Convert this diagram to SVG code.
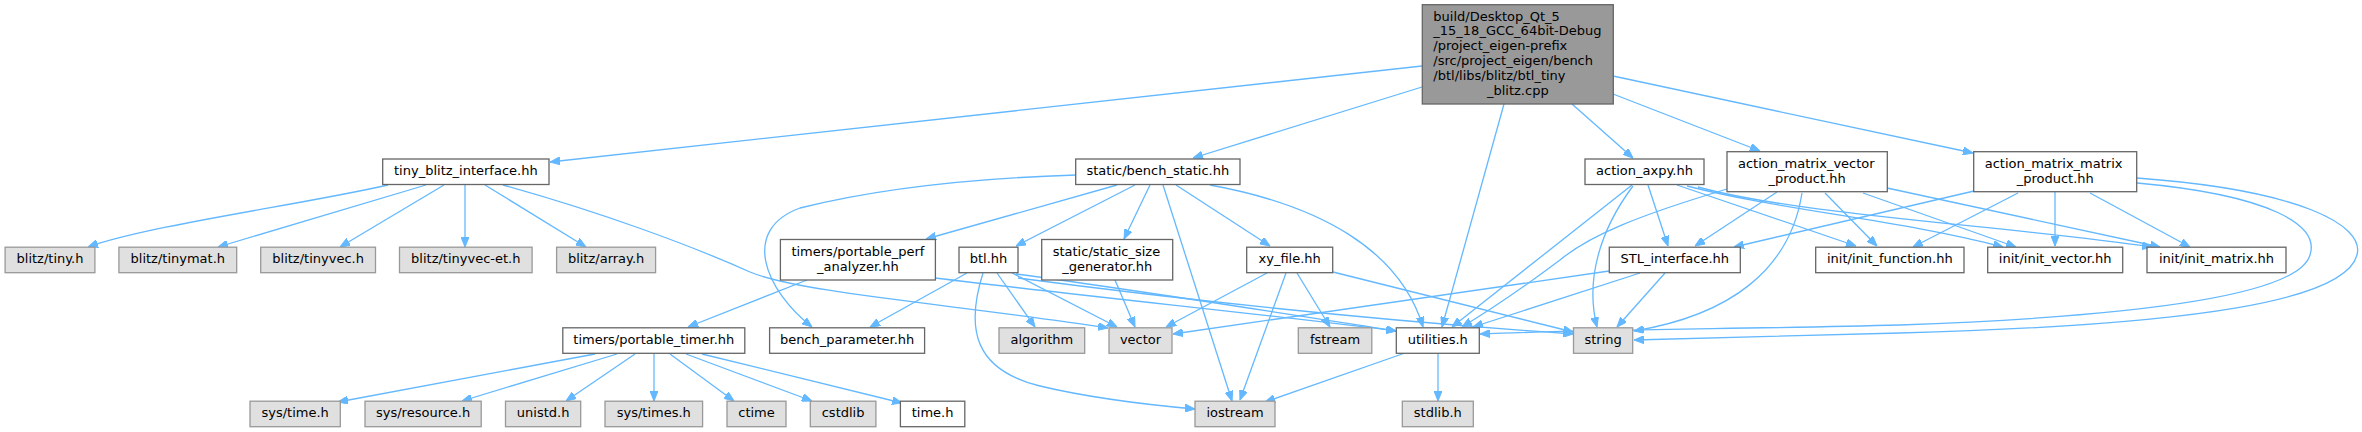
<svg xmlns="http://www.w3.org/2000/svg" width="2362" height="432" viewBox="0 0 2362 432">
<style>
.e{fill:none;stroke:#63b8ff;stroke-width:1.3;marker-end:url(#arr)}
.w{fill:#fff;stroke:#666;stroke-width:1.3}
.g{fill:#e0e0e0;stroke:#999;stroke-width:1.3}
.t{fill:#999;stroke:#666;stroke-width:1.3}
text{font-family:"DejaVu Sans","Noto Sans",sans-serif;font-size:13px;fill:#000}
.c{text-anchor:middle}
</style>
<defs>
<marker id="arr" markerUnits="userSpaceOnUse" markerWidth="10" markerHeight="8" refX="10" refY="4" orient="auto">
<path d="M0,0 L10,4 L0,8 z" fill="#63b8ff" stroke="#63b8ff" stroke-width="1"/>
</marker>
</defs>
<rect width="2362" height="432" fill="#fff"/>
<g id="edges">
<path class="e" d="M1422,66 L550,162"/>
<path class="e" d="M1422,87 L1193,158"/>
<path class="e" d="M1504,104 L1442,327"/>
<path class="e" d="M1572,104 L1633,158"/>
<path class="e" d="M1613,94 L1760,151"/>
<path class="e" d="M1613,76 L1973,153"/>
<path class="e" d="M1076,175 C980,178 880,188 800,208 C740,230 765,290 812,327"/>
<path class="e" d="M1117,185 L926,239"/>
<path class="e" d="M1135,185 L1016,246"/>
<path class="e" d="M1150,185 L1124,239"/>
<path class="e" d="M1163,185 L1232,401"/>
<path class="e" d="M1176,185 L1270,246"/>
<path class="e" d="M1210,185 C1320,205 1400,250 1423,327"/>
<path class="e" d="M388,185 C300,205 150,225 88,247"/>
<path class="e" d="M426,185 L218,247"/>
<path class="e" d="M444,185 L340,247"/>
<path class="e" d="M465,185 L465,247"/>
<path class="e" d="M485,185 L586,247"/>
<path class="e" d="M503,185 C600,212 690,245 750,272 C800,293 960,305 1108,328"/>
<path class="e" d="M807,280 L688,327"/>
<path class="e" d="M935,278 C1100,298 1300,318 1396,331"/>
<path class="e" d="M967,273 L870,327"/>
<path class="e" d="M997,273 L1035,327"/>
<path class="e" d="M1012,273 L1117,327"/>
<path class="e" d="M983,273 C965,330 975,370 1040,386 C1090,398 1150,405 1195,409"/>
<path class="e" d="M1016,274 C1150,292 1300,316 1396,331"/>
<path class="e" d="M1018,278 C1200,302 1400,322 1573,334"/>
<path class="e" d="M1115,280 L1135,327"/>
<path class="e" d="M1267,273 L1166,327"/>
<path class="e" d="M1286,273 L1240,400"/>
<path class="e" d="M1297,273 L1330,327"/>
<path class="e" d="M1333,272 L1573,332"/>
<path class="e" d="M1405,353 L1265,402"/>
<path class="e" d="M1438,353 L1438,401"/>
<path class="e" d="M595,354 L338,402"/>
<path class="e" d="M617,354 L462,401"/>
<path class="e" d="M635,354 L566,401"/>
<path class="e" d="M654,354 L654,401"/>
<path class="e" d="M670,354 L734,401"/>
<path class="e" d="M686,354 L812,401"/>
<path class="e" d="M702,354 L902,403"/>
<path class="e" d="M1632,185 L1452,327"/>
<path class="e" d="M1633,186 C1600,230 1585,280 1597,327"/>
<path class="e" d="M1648,185 L1668,246"/>
<path class="e" d="M1677,185 L1856,246"/>
<path class="e" d="M1687,186 C1780,210 1900,220 2003,247"/>
<path class="e" d="M1698,187 C1800,215 2000,225 2152,247"/>
<path class="e" d="M1727,189 C1640,215 1590,235 1560,260 C1520,290 1490,310 1462,327"/>
<path class="e" d="M1777,192 L1695,246"/>
<path class="e" d="M1802,193 C1790,270 1730,315 1634,331"/>
<path class="e" d="M1825,193 L1877,246"/>
<path class="e" d="M1863,193 L2016,247"/>
<path class="e" d="M1887,188 L2160,247"/>
<path class="e" d="M1974,191 L1734,247"/>
<path class="e" d="M2018,193 L1913,247"/>
<path class="e" d="M2055,192 L2055,246"/>
<path class="e" d="M2090,193 L2190,247"/>
<path class="e" d="M2137,183 C2270,195 2320,225 2310,255 C2300,290 2180,315 1900,325 C1750,329 1600,329 1480,334"/>
<path class="e" d="M2137,178 C2300,190 2365,225 2357,255 C2345,300 2200,325 1900,333 C1800,336 1700,338 1634,340"/>
<path class="e" d="M1609,271 L1173,334"/>
<path class="e" d="M1640,273 L1473,327"/>
<path class="e" d="M1665,273 L1617,327"/>
</g>
<g id="node-top"><rect class="t" x="1422.3" y="4.7" width="191" height="99.3"/>
<text x="1433.3" y="20.6">build/Desktop_Qt_5</text>
<text x="1433.3" y="35.4">_15_18_GCC_64bit-Debug</text>
<text x="1433.3" y="50.2">/project_eigen-prefix</text>
<text x="1433.3" y="65">/src/project_eigen/bench</text>
<text x="1433.3" y="79.8">/btl/libs/blitz/btl_tiny</text>
<text class="c" x="1517.8" y="94.6">_blitz.cpp</text></g>
<g id="node-tiny_blitz_interface"><rect class="w" x="382.7" y="159" width="166.3" height="25.5"/><text class="c" x="465.85" y="175.2">tiny_blitz_interface.hh</text></g>
<g id="node-bench_static"><rect class="w" x="1075.7" y="159" width="164.3" height="25.5"/><text class="c" x="1157.85" y="175.2">static/bench_static.hh</text></g>
<g id="node-action_axpy"><rect class="w" x="1585" y="159" width="119" height="25.5"/><text class="c" x="1644.5" y="175.2">action_axpy.hh</text></g>
<g id="node-action_matrix_vector"><rect class="w" x="1727" y="151.7" width="160.3" height="40"/><text x="1738" y="168.2">action_matrix_vector</text><text class="c" x="1807.15" y="183">_product.hh</text></g>
<g id="node-action_matrix_matrix"><rect class="w" x="1973.7" y="151.7" width="163" height="40"/><text x="1984.7" y="168.2">action_matrix_matrix</text><text class="c" x="2055.2" y="183">_product.hh</text></g>
<g id="node-blitz_tiny"><rect class="g" x="5.1" y="247.2" width="89.8" height="25.5"/><text class="c" x="50" y="263.4">blitz/tiny.h</text></g>
<g id="node-blitz_tinymat"><rect class="g" x="118.9" y="247.2" width="117.8" height="25.5"/><text class="c" x="177.8" y="263.4">blitz/tinymat.h</text></g>
<g id="node-blitz_tinyvec"><rect class="g" x="260.7" y="247.2" width="114.8" height="25.5"/><text class="c" x="318.1" y="263.4">blitz/tinyvec.h</text></g>
<g id="node-blitz_tinyvec_et"><rect class="g" x="399.5" y="247.2" width="132.6" height="25.5"/><text class="c" x="465.8" y="263.4">blitz/tinyvec-et.h</text></g>
<g id="node-blitz_array"><rect class="g" x="556.6" y="247.2" width="99" height="25.5"/><text class="c" x="606.1" y="263.4">blitz/array.h</text></g>
<g id="node-perf_analyzer"><rect class="w" x="780.4" y="239.5" width="155" height="40.5"/><text x="791.4" y="256.3">timers/portable_perf</text><text class="c" x="857.9" y="271.1">_analyzer.hh</text></g>
<g id="node-btl"><rect class="w" x="959" y="247.2" width="59" height="25.5"/><text class="c" x="988.5" y="263.4">btl.hh</text></g>
<g id="node-static_size_generator"><rect class="w" x="1041.7" y="239.5" width="131" height="40.5"/><text x="1052.7" y="256.3">static/static_size</text><text class="c" x="1107.2" y="271.1">_generator.hh</text></g>
<g id="node-xy_file"><rect class="w" x="1246.7" y="247.2" width="86" height="25.5"/><text class="c" x="1289.7" y="263.4">xy_file.hh</text></g>
<g id="node-STL_interface"><rect class="w" x="1609.3" y="247.2" width="131" height="25.5"/><text class="c" x="1674.8" y="263.4">STL_interface.hh</text></g>
<g id="node-init_function"><rect class="w" x="1815.7" y="247.2" width="148.3" height="25.5"/><text class="c" x="1889.85" y="263.4">init/init_function.hh</text></g>
<g id="node-init_vector"><rect class="w" x="1987.7" y="247.2" width="135" height="25.5"/><text class="c" x="2055.2" y="263.4">init/init_vector.hh</text></g>
<g id="node-init_matrix"><rect class="w" x="2147" y="247.2" width="139" height="25.5"/><text class="c" x="2216.5" y="263.4">init/init_matrix.hh</text></g>
<g id="node-portable_timer"><rect class="w" x="562.8" y="327.8" width="182" height="25.5"/><text class="c" x="653.8" y="344">timers/portable_timer.hh</text></g>
<g id="node-bench_parameter"><rect class="w" x="769.6" y="327.8" width="155" height="25.5"/><text class="c" x="847.1" y="344">bench_parameter.hh</text></g>
<g id="node-algorithm"><rect class="g" x="999" y="327.8" width="85.7" height="25.5"/><text class="c" x="1041.85" y="344">algorithm</text></g>
<g id="node-vector"><rect class="g" x="1109" y="327.8" width="63" height="25.5"/><text class="c" x="1140.5" y="344">vector</text></g>
<g id="node-fstream"><rect class="g" x="1298.3" y="327.8" width="73.5" height="25.5"/><text class="c" x="1335" y="344">fstream</text></g>
<g id="node-utilities"><rect class="w" x="1396.3" y="327.8" width="83" height="25.5"/><text class="c" x="1437.8" y="344">utilities.h</text></g>
<g id="node-string"><rect class="g" x="1573.5" y="327.8" width="59.2" height="25.5"/><text class="c" x="1603.1" y="344">string</text></g>
<g id="node-sys_time"><rect class="g" x="250" y="401.2" width="90.3" height="25.5"/><text class="c" x="295.15" y="417.4">sys/time.h</text></g>
<g id="node-sys_resource"><rect class="g" x="365" y="401.2" width="116.2" height="25.5"/><text class="c" x="423.1" y="417.4">sys/resource.h</text></g>
<g id="node-unistd"><rect class="g" x="505.5" y="401.2" width="75.2" height="25.5"/><text class="c" x="543.1" y="417.4">unistd.h</text></g>
<g id="node-sys_times"><rect class="g" x="605" y="401.2" width="97.6" height="25.5"/><text class="c" x="653.8" y="417.4">sys/times.h</text></g>
<g id="node-ctime"><rect class="g" x="727" y="401.2" width="59" height="25.5"/><text class="c" x="756.5" y="417.4">ctime</text></g>
<g id="node-cstdlib"><rect class="g" x="810.3" y="401.2" width="65.6" height="25.5"/><text class="c" x="843.1" y="417.4">cstdlib</text></g>
<g id="node-time"><rect class="w" x="900.4" y="401.2" width="64.4" height="25.5"/><text class="c" x="932.6" y="417.4">time.h</text></g>
<g id="node-iostream"><rect class="g" x="1195" y="401.2" width="80" height="25.5"/><text class="c" x="1235" y="417.4">iostream</text></g>
<g id="node-stdlib"><rect class="g" x="1402.3" y="401.2" width="71" height="25.5"/><text class="c" x="1437.8" y="417.4">stdlib.h</text></g>
</svg>
